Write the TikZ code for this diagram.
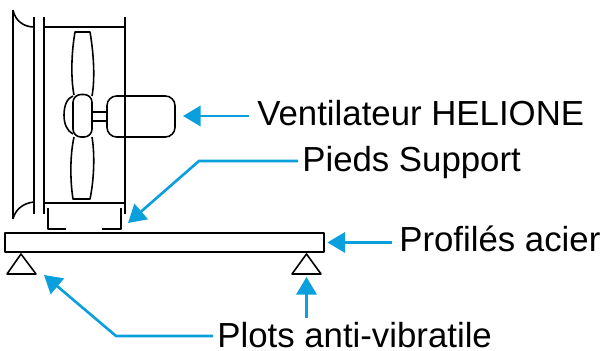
\documentclass[tikz,border=0pt]{standalone}
\usepackage{fontspec}
\setmainfont{Liberation Sans}
\usetikzlibrary{arrows.meta}

\definecolor{fleche}{HTML}{0A9FDD}

\begin{document}
\begin{tikzpicture}[x=0.02cm,y=-0.02cm]
  \tikzset{legende/.style = {inner sep=0pt,anchor=base west,font=\fontsize{19.8}{22}\selectfont}}
  \tikzset{trait/.style = {draw=black,line width=0.9pt,line join=round}}
  \tikzset{renvoi/.style = {draw=fleche,line width=1.5pt,-{Triangle[length=10pt,width=11.5pt]}}}
  \useasboundingbox (0,0) rectangle (606,351);

	% virole et pavillon
	\draw[trait] (13,10) -- (13,219);
	\draw[trait] (13,10) .. controls (15,20) and (23,27) .. (34,27);
	\draw[trait] (13,219) .. controls (15,210) and (23,203) .. (34,202);
	\draw[trait] (34,17) -- (34,214);
	\draw[trait] (44,17) -- (44,214);
	\draw[trait] (125,17) -- (125,214);
	\draw[trait] (44,27) -- (125,27);
	\draw[trait] (44,203) -- (125,203);

	% helice
	\draw[trait] (74,95) .. controls (71,80) and (71,55) .. (75,32) -- (90,32)
	  .. controls (94,55) and (95,80) .. (92,96);
	\draw[trait] (74,137) .. controls (70,155) and (70,180) .. (73,199) -- (90,199)
	  .. controls (94,180) and (95,155) .. (92,137);
	\draw[trait] (73,96) .. controls (67,98) and (64,106) .. (64,115) .. controls (64,124) and (67,131) .. (73,134);
	\draw[trait,rounded corners=4.5pt] (73,94.5) rectangle (92,137);

	% moteur
	\draw[trait] (93,112) -- (107,112);
	\draw[trait] (93,121) -- (107,121);
	\draw[trait,rounded corners=5.5pt] (107,96) rectangle (175,137);

	% pieds support
	\draw[trait] (48,208) -- (48,229) -- (66,229);
	\draw[trait] (121,208) -- (121,229) -- (102,229);

	% profile et plots
	\node[trait,draw,line width=1.1pt,minimum width=319*0.02cm,minimum height=19*0.02cm,inner sep=0pt,anchor=north west] (profil) at (4,232) {};
	\draw[trait] (21,254) -- (36,274) -- (7,274) -- cycle;
	\draw[trait] (306.5,254) -- (321,274) -- (292,274) -- cycle;

	\node[legende] (ventil) at (257,126) {Ventilateur HELIONE};
	\node[legende] (pieds) at (302,172) {Pieds Support};
	\node[legende] (acier) at (399,252) {Profilés acier};
	\node[legende] (plots) at (217,348) {Plots anti-vibratile};

	\coordinate (moteur) at (183,116);
	\coordinate (pied) at (128,223);
	\coordinate (coudeP) at (199,161);
	\coordinate (coudeA) at (116,336);
	\coordinate (plotA) at (44,275);
	\coordinate (plotB) at (306.5,277);
	\coordinate (baseB) at (306.5,318);

	\draw[renvoi] (ventil.west |- moteur) ++(-8,0) -- (moteur);
	\draw[renvoi] (pieds.west |- coudeP) ++(-4,0) -- (coudeP) -- (pied);
	\draw[renvoi] (acier.west |- profil.east) ++(-7,0) -- ([xshift=2.5*0.02cm]profil.east);
	\draw[renvoi] (plots.west |- coudeA) ++(-4,0) -- (coudeA) -- (plotA);
	\draw[renvoi] (baseB) -- (plotB);
\end{tikzpicture}
\end{document}
